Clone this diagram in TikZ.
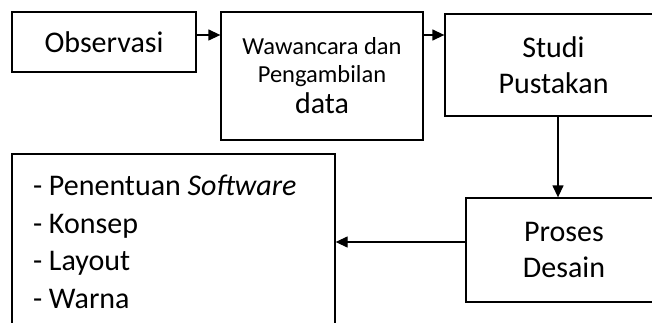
\documentclass[tikz,border=0pt]{standalone}
\usepackage{fontspec}
\setmainfont{Carlito}
\usetikzlibrary{arrows.meta,calc}

\begin{document}
\begin{tikzpicture}[
  x=1pt, y=-1pt,
  >={Triangle[length=12pt,width=11pt]},
  box/.style={draw, line width=1.3pt, inner sep=0pt, align=center,
    font=\fontsize{30}{35.5}\selectfont},
  arr/.style={->, line width=1.3pt}
]
\useasboundingbox (0,0) rectangle (652,323);
\clip (0,0) rectangle (652,323);

% top row
\node[box, minimum width=184pt, minimum height=60pt] (obs) at (104,42) {Observasi};
\node[box, minimum width=202pt, minimum height=128pt,
  font=\fontsize{24.5}{28}\selectfont] (waw) at (322,76)
  {Wawancara dan\\Pengambilan\\[3pt]\fontsize{30}{32}\selectfont data};
\node[box, minimum width=217pt, minimum height=102pt] (studi) at (553.5,65) {Studi\\Pustakan};

% bottom row
\node[box, minimum width=196pt, minimum height=104pt] (proses) at (564,250) {Proses\\Desain};
\node[box, align=flush left, text width=281pt, inner xsep=21pt, minimum height=176pt,
  font=\fontsize{30}{37.5}\selectfont] (list) at (173.5,242)
  {- Penentuan \textit{Software}\\- Konsep\\- Layout\\- Warna};

% arrows
\draw[arr] ([yshift=7pt]obs.east) -- ([yshift=7pt]obs.east -| waw.west);
\draw[arr] ([yshift=7pt]obs.east -| waw.east) -- ([yshift=7pt]obs.east -| studi.west);
\draw[arr] ([xshift=4.5pt]studi.south) -- ([xshift=4.5pt]studi.south |- proses.north);
\draw[arr] (proses.west |- list.east) -- (list.east);

\end{tikzpicture}
\end{document}
